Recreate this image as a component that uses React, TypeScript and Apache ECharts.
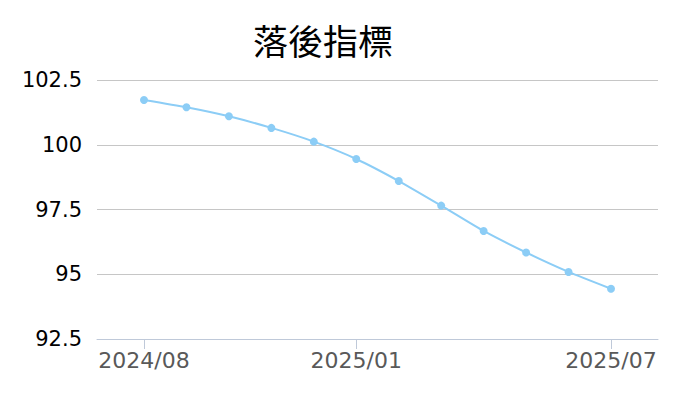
import React, { useEffect, useRef } from "react";
import * as echarts from "echarts";

const titleText = "落後指標";
const months = [
  "2024/08", "2024/09", "2024/10", "2024/11", "2024/12", "2025/01",
  "2025/02", "2025/03", "2025/04", "2025/05", "2025/06", "2025/07",
];
const values = [101.73, 101.45, 101.1, 100.65, 100.12, 99.45, 98.6, 97.65, 96.67, 95.84, 95.09, 94.44];
const labelIndexes = [0, 5, 11];
const yTicks = { min: 92.5, max: 102.5, interval: 2.5 };

export default function App() {
  const ref = useRef<HTMLDivElement>(null);
  useEffect(() => {
    if (!ref.current) return;
    const chart = echarts.init(ref.current, null, { renderer: "svg" });
    chart.setOption({
      animation: false,
      backgroundColor: "#ffffff",
      title: {
        text: titleText,
        left: 248,
        top: 17,
        textStyle: {
          fontFamily: "Noto Sans CJK TC",
          fontSize: 35,
          fontWeight: "normal",
          color: "#000000",
        },
      },
      grid: { left: 97, right: 42, top: 80, bottom: 61 },
      xAxis: {
        type: "value",
        min: -1.107,
        max: 12.107,
        splitLine: { show: false },
        axisLine: { show: true, lineStyle: { color: "#bfc9d9", width: 1 } },
        axisTick: {
          show: true,
          length: 10,
          customValues: labelIndexes,
          lineStyle: { color: "#bfc9d9" },
        },
        axisLabel: {
          customValues: labelIndexes,
          formatter: (v: number) => months[Math.round(v)] ?? "",
          color: "#595959",
          fontFamily: "DejaVu Sans",
          fontSize: 22,
          margin: 10,
        },
      },
      yAxis: {
        type: "value",
        min: yTicks.min,
        max: yTicks.max,
        interval: yTicks.interval,
        axisLine: { show: false },
        axisTick: { show: false },
        splitLine: { lineStyle: { color: "#c6c6c6", width: 1 } },
        axisLabel: {
          color: "#000000",
          fontFamily: "DejaVu Sans",
          fontSize: 21,
          margin: 15,
        },
      },
      series: [
        {
          type: "line",
          data: values.map((v, i) => [i, v]),
          smooth: 0.2,
          symbol: "circle",
          symbolSize: 8,
          lineStyle: { color: "#8ccdf6", width: 2 },
          itemStyle: { color: "#8ccdf6" },
        },
      ],
    });
    return () => chart.dispose();
  }, []);
  return (
    <div
      ref={ref}
      style={{ position: "absolute", left: 0, top: 0, width: 700, height: 400 }}
    />
  );
}
